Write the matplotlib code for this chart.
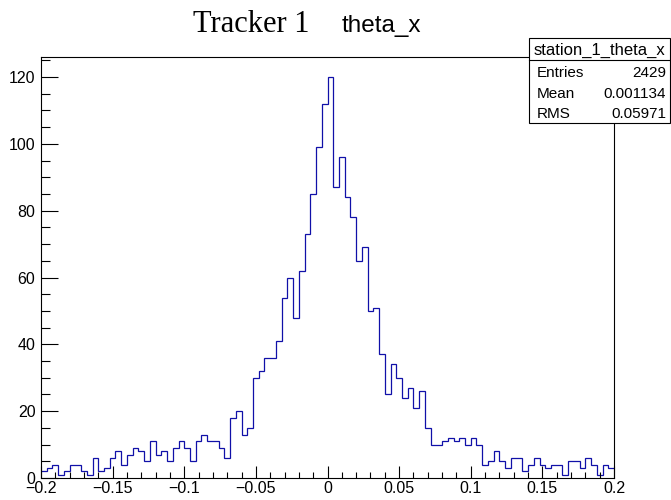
import matplotlib
matplotlib.use("Agg")
import matplotlib.pyplot as plt
import numpy as np
from matplotlib.patches import Rectangle
from matplotlib.lines import Line2D
from matplotlib.ticker import MultipleLocator

# histogram setup: 100 bins from -0.2 to 0.2
x_min, x_max, n_bins = -0.2, 0.2, 100

# bin contents, left to right
counts = [2, 3, 4, 1, 2, 4, 4, 2, 1, 6,
          2, 3, 6, 8, 4, 7, 9, 8, 5, 11,
          7, 8, 5, 9, 11, 9, 5, 11, 13, 11,
          11, 9, 6, 18, 20, 13, 15, 30, 32, 36,
          36, 41, 54, 60, 48, 62, 73, 85, 99, 112,
          120, 87, 96, 84, 78, 65, 69, 50, 51, 37,
          25, 34, 30, 24, 27, 21, 26, 15, 10, 10,
          11, 12, 11, 12, 10, 12, 10, 4, 5, 8,
          5, 3, 6, 6, 2, 4, 6, 4, 3, 4,
          4, 1, 5, 5, 3, 6, 4, 1, 4, 3]

x_ticks = [-0.2, -0.15, -0.1, -0.05, 0, 0.05, 0.1, 0.15, 0.2]
x_tick_labels = ["\u22120.2", "\u22120.15", "\u22120.1", "\u22120.05", "0",
                 "0.05", "0.1", "0.15", "0.2"]
y_ticks = [0, 20, 40, 60, 80, 100, 120]

hist_name = "station_1_theta_x"
stats_labels = ["Entries", "Mean", "RMS"]
stats_values = ["2429", "0.001134", "0.05971"]

plt.rcParams["font.family"] = ["Liberation Sans", "DejaVu Sans"]

W, H = 671, 500
fig = plt.figure(figsize=(W / 100, H / 100), dpi=100)
ax = fig.add_axes([41 / W, 22 / H, (614 - 41) / W, (478 - 57) / H])

edges = np.linspace(x_min, x_max, n_bins + 1)
ax.stairs(counts, edges, color="#1010a8", linewidth=0.9, baseline=None)

ax.set_xlim(x_min, x_max)
ax.set_ylim(0, 126)
ax.set_xticks(x_ticks)
ax.set_xticklabels(x_tick_labels)
ax.set_yticks(y_ticks)
ax.xaxis.set_minor_locator(MultipleLocator(0.01))
ax.yaxis.set_minor_locator(MultipleLocator(5))
ax.tick_params(axis="x", which="major", direction="in", length=8.5, width=0.8,
               labelsize=11.5, pad=2)
ax.tick_params(axis="x", which="minor", direction="in", length=4.3, width=0.8)
ax.tick_params(axis="y", which="major", direction="in", length=12, width=0.8,
               labelsize=11.5, pad=4)
ax.tick_params(axis="y", which="minor", direction="in", length=6.3, width=0.8)
for s in ax.spines.values():
    s.set_linewidth(0.8)

# title: serif part plus histogram title
fig.text(193 / W, 1 - 32 / H, "Tracker 1", family="Liberation Serif",
         fontsize=22, ha="left", va="baseline")
fig.text(342 / W, 1 - 32 / H, "theta_x", fontsize=17.5, ha="left",
         va="baseline")

# stats box
bx0, by0, bx1, by1 = 529, 38, 670, 123
fig.patches.append(Rectangle((bx0 / W, 1 - by1 / H), (bx1 - bx0) / W,
                             (by1 - by0) / H, transform=fig.transFigure,
                             facecolor="white", edgecolor="black",
                             linewidth=0.8, zorder=5))
fig.lines.append(Line2D([bx0 / W, bx1 / W], [1 - 60 / H, 1 - 60 / H],
                        transform=fig.transFigure, color="black",
                        linewidth=0.8, zorder=6))
fig.text((bx0 + bx1) / 2 / W, 1 - 55 / H, hist_name, fontsize=12,
         ha="center", va="baseline", zorder=7)
for i, (lab, val) in enumerate(zip(stats_labels, stats_values)):
    yb = 1 - (77 + i * 20.5) / H
    fig.text(537 / W, yb, lab, fontsize=11, ha="left", va="baseline",
             zorder=7)
    fig.text(666 / W, yb, val, fontsize=11, ha="right", va="baseline",
             zorder=7)

fig.savefig("out.png", dpi=100)
